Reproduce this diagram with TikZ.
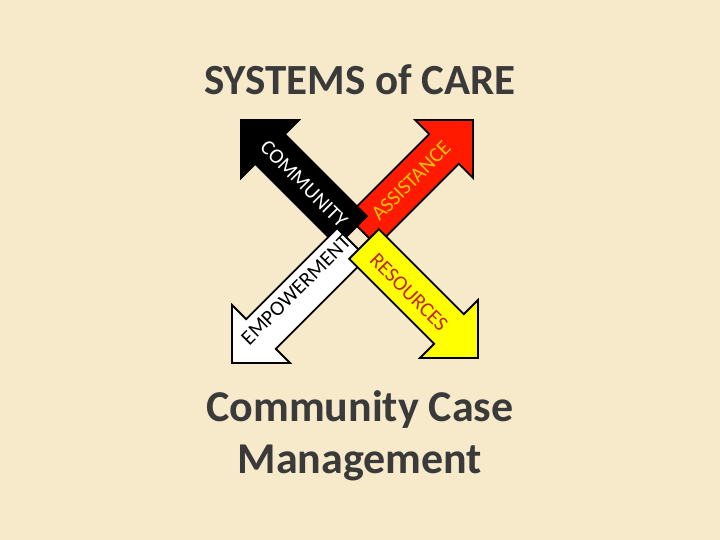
\documentclass[tikz,border=0pt]{standalone}
\usepackage{fontspec}
\setmainfont{Carlito}
\usetikzlibrary{calc}
\definecolor{bg}{HTML}{F6EACB}
\definecolor{ttl}{HTML}{3A3A3A}
\definecolor{ared}{HTML}{FF1A00}
\definecolor{ayel}{HTML}{FFFF00}
\definecolor{atxt}{HTML}{F2C400}
\definecolor{rtxt}{HTML}{C0281E}
\tikzset{
  ttlstyle/.style={font=\bfseries, text=ttl, align=center},
  lbl/.style={font=\fontsize{21}{22}\selectfont, inner sep=0pt},
}
% \myarrow{base}{tip}{fill}
\newcommand{\myarrow}[3]{%
  \fill[#3, draw=black, line width=1.8pt, line join=miter]
    let \p1=(#1), \p2=(#2), \n1={atan2(\y2-\y1,\x2-\x1)}, \n2={veclen(\x2-\x1,\y2-\y1)} in
    [shift={(#1)}, rotate=\n1]
    (0,-21) -- (\n2-41,-21) -- (\n2-41,-41) -- (\n2,0) -- (\n2-41,41) -- (\n2-41,21) -- (0,21) -- cycle;}
\begin{document}
\begin{tikzpicture}[x=1pt,y=-1pt]
\fill[bg] (0,0) rectangle (720,540);
\useasboundingbox (0,0) rectangle (720,540);
\coordinate (rB) at (362,231); \coordinate (rT) at (473,120);
\coordinate (kB) at (352,231); \coordinate (kT) at (241,120);
\coordinate (wB) at (352,243); \coordinate (wT) at (232,363);
\coordinate (yB) at (364,244); \coordinate (yT) at (478,358);
\myarrow{rB}{rT}{ared}
\myarrow{kB}{kT}{black}
\myarrow{wB}{wT}{white}
\myarrow{yB}{yT}{ayel}
\node[lbl, text=white, rotate=-45] (lc) at (304,184) {COMMUNITY};
\node[lbl, text=atxt, rotate=45] (la) at (411,181) {ASSISTANCE};
\node[lbl, text=black, rotate=45] (le) at (296,290) {EMPOWERMENT};
\node[lbl, text=rtxt, rotate=-45] (lr) at (409,292) {RESOURCES};
\node[ttlstyle, font=\fontsize{43}{48}\bfseries\selectfont] (title) at (360,80) {SYSTEMS of CARE};
\node[ttlstyle, font=\fontsize{44}{52}\bfseries\selectfont] (sub) at (360,436) {Community Case\\Management};
\end{tikzpicture}
\end{document}
